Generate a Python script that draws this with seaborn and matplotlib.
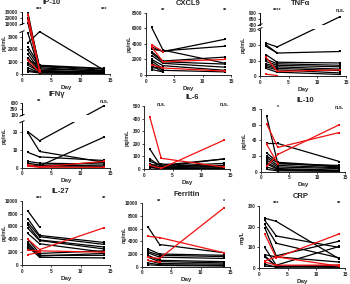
import matplotlib
matplotlib.use("Agg")
import matplotlib.pyplot as plt
import numpy as np
import pandas as pd
import seaborn as sns

DAYS = [1, 3, 14]

# per-patient values at day 1, 3, 14 (nan = not sampled)
IP10_BLACK = [
	[29000, 400, 250], [20000, 600, 300], [12000, 300, np.nan], [3300, 200, 150],
	[2500, 3400, 300], [2200, 650, 400], [1900, 500, 200], [1600, 300, 100],
	[1300, 250, 150], [1100, 700, 450], [900, 150, 100], [700, 200, 50],
	[500, 100, 80], [300, 120, 60], [200, 80, 30],
]
IP10_RED = [[25000, 300, np.nan], [16000, 250, np.nan], [1100, 150, np.nan]]

CXCL9_BLACK = [
	[6100, 3200, 1500], [3600, 3000, 4600], [3300, 3100, 3700], [3000, 1800, 2300],
	[2800, 1700, 1400], [2500, 1500, 1000], [2000, 1200, 600], [1800, 800, np.nan],
	[1500, 600, 400], [1200, 400, np.nan], [900, 1000, np.nan], [700, 400, np.nan],
]
CXCL9_RED = [[3900, 3000, np.nan], [3600, 1700, 2000], [1300, 900, 500]]

TNFA_BLACK = [
	[215, 190, 740], [205, 150, 160], [195, 150, np.nan], [140, 90, 85],
	[110, 80, 70], [95, 70, 60], [80, 60, 45], [70, 50, 35], [60, 40, 20], [50, 25, 10],
]
TNFA_RED = [[125, 30, 40], [12, 3, np.nan]]

IFNG_BLACK = [
	[20, 15, 490], [19.5, 9, 3], [8.5, 6, 4], [3.5, 2.5, 2], [2.5, 1.5, 1],
	[np.nan, 1, 17], [1.5, 1, 3], [1, 0.5, 0.5],
]
IFNG_RED = [[1.5, 0.5, 3.5], [0.8, 0.3, 0.2]]

IL6_BLACK = [
	[160, 20, 80], [80, 20, 45], [60, 30, 80], [40, 15, 30], [30, 10, 20],
	[25, 40, 15], [20, 5, 10], [15, 8, 5], [10, 3, 2],
]
IL6_RED = [[415, 85, 15], [30, 5, 230]]

IL10_BLACK = [
	[71, 10, 8], [36, 36, 13], [24, 12, 7], [20, 11, 6], [18, 8, 5],
	[15, 6, 4], [12, 4, 2], [10, 3, 1], [6, 2, 1], [3, 1, 0.5],
]
IL10_RED = [[61, 31, 50], [7, 22, 60], [35, 10, np.nan]]

IL27_BLACK = [
	[8400, 5900, np.nan], [7200, 4600, 3500], [6600, 4400, 3200], [6200, 3900, 2800],
	[5700, 3800, 2500], [4900, 3300, 2000], [4000, 1800, 2200], [3500, 1500, 1500],
	[3200, 1400, 1800], [2900, 1200, 1100], [2600, 1600, np.nan],
]
IL27_RED = [[4000, 2400, 5800], [2300, 2200, 2000], [1600, 2000, np.nan]]

FERRITIN_BLACK = [
	[6300, 3500, 2200], [2800, 2000, 1800], [2400, 1800, 1600], [2200, 1500, 1300],
	[1800, 1000, 800], [1500, 800, 600], [1000, 500, 400], [600, 300, 200], [300, 200, 100],
]
FERRITIN_RED = [[4800, 4600, 2200], [1500, 1300, 9300], [1000, 700, np.nan]]

CRP_BLACK = [
	[240, 225, 45], [230, 155, 100], [210, 120, 50], [195, 60, 130], [100, 15, 105],
	[65, 55, 30], [60, 10, 15], [55, 10, 5], [20, 5, 10], [10, 8, 5],
]
CRP_RED = [[165, 50, 165], [35, 55, 10], [30, 15, 15]]

TITLES = ["IP-10", "CXCL9", "TNFα", "IFNγ", "IL-6", "IL-10", "IL-27", "Ferritin", "CRP"]
UNITS = ["pg/mL"] * 7 + ["ng/mL", "mg/L"]
SIG_EARLY = ["***", "**", "****", "**", "n.s.", "*", "***", "**", "***"]
SIG_LATE = ["***", "**", "n.s.", "n.s.", "n.s.", "n.s.", "**", "*", "**"]
YTICKS = [
	[0, 1000, 2000, 3000, 10000, 20000, 30000],
	[0, 2000, 4000, 6000, 8000],
	[0, 100, 200, 300, 400, 650, 900],
	[0, 10, 20, 100, 350, 600],
	[0, 100, 200, 300, 400, 500],
	[0, 20, 40, 60, 80],
	[0, 2000, 4000, 6000, 8000, 10000],
	[0, 2000, 4000, 6000, 8000, 10000],
	[0, 100, 200, 300],
]
BLACK = [IP10_BLACK, CXCL9_BLACK, TNFA_BLACK, IFNG_BLACK, IL6_BLACK, IL10_BLACK,
	IL27_BLACK, FERRITIN_BLACK, CRP_BLACK]
RED = [IP10_RED, CXCL9_RED, TNFA_RED, IFNG_RED, IL6_RED, IL10_RED,
	IL27_RED, FERRITIN_RED, CRP_RED]

# layout: pixel boxes (x0, x1, ytop, ybottom) on a 350x284 canvas
BOXES = [
	(22, 110, 11.7, 74), (146, 231, 12.7, 75), (260, 346, 12.7, 76),
	(22, 110, 103, 167.7), (144, 230, 106, 169), (261, 345, 109, 171.7),
	(22, 110, 200.7, 265), (142, 230, 203.3, 266.7), (259, 345, 205.7, 268.3),
]
TITLE_X = [0.34, 0.5, 0.47, 0.4, 0.56, 0.53, 0.44, 0.51, 0.48]
# broken y axes: (lower top, upper bottom, upper top, frac lower top, frac upper bottom)
BREAKS = {
	0: (3400, 10000, 30000, 0.68, 0.80),
	2: (310, 400, 900, 0.75, 0.81),
	3: (25.5, 100, 600, 0.71, 0.81),
}

W, H = 350, 284


def _broken_scale(lt, ub, ut, fl, fu):
	xp = [0, lt, ub, ut]
	fp = [0, fl, fu, 1]
	return (lambda v: np.interp(v, xp, fp), lambda f: np.interp(f, fp, xp))


def _long_frame(black, red):
	rows = []
	for group, series in (("black", black), ("red", red)):
		for pid, vals in enumerate(series):
			for day, v in zip(DAYS, vals):
				rows.append({"patient": f"{group}{pid}", "group": group, "day": day, "value": v})
	return pd.DataFrame(rows).dropna()


def main():
	sns.set_style("ticks")
	plt.rcParams["font.family"] = ["Liberation Sans", "DejaVu Sans"]
	plt.rcParams["font.weight"] = "bold"

	fig = plt.figure(figsize=(W / 100, H / 100), dpi=100)

	for i, title in enumerate(TITLES):
		x0, x1, yt, yb = BOXES[i]
		ax = fig.add_axes([x0 / W, (H - yb) / H, (x1 - x0) / W, (yb - yt) / H])
		df = _long_frame(BLACK[i], RED[i])

		ymax = YTICKS[i][-1]
		if i in BREAKS:
			lt, ub, ut, fl, fu = BREAKS[i]
			ax.set_yscale("function", functions=_broken_scale(lt, ub, ut, fl, fu))

		sns.lineplot(
			data=df, x="day", y="value", units="patient", estimator=None,
			hue="group", palette={"black": "black", "red": "#f01010"},
			hue_order=["black", "red"], marker="s", markersize=1.8,
			markeredgewidth=0, linewidth=0.9, legend=False, ax=ax,
		)

		ax.set_xlim(0, 15)
		ax.set_ylim(0, ymax)
		ax.set_xticks([0, 5, 10, 15])
		ax.set_yticks(YTICKS[i])
		ax.set_yticklabels([str(t) for t in YTICKS[i]])
		ax.tick_params(labelsize=3.4, length=1.6, width=0.6, pad=1)
		for s in ("top", "right"):
			ax.spines[s].set_visible(False)
		for s in ("left", "bottom"):
			ax.spines[s].set_linewidth(0.7)

		if i in BREAKS:
			lt, ub, ut, fl, fu = BREAKS[i]
			ax.spines["left"].set_visible(False)
			kw = dict(transform=ax.transAxes, color="black", lw=0.7, clip_on=False)
			ax.plot([0, 0], [0, fl], **kw)
			ax.plot([0, 0], [fu, 1], **kw)
			ax.plot([-0.025, 0.025], [fl - 0.015, fl + 0.015], **kw)
			ax.plot([-0.025, 0.025], [fu - 0.015, fu + 0.015], **kw)
			ax.axhspan(lt, ub, xmin=0.3, xmax=1, color="white", zorder=5, lw=0)

		ax.set_xlabel("Day", fontsize=4.5, fontweight="bold", labelpad=1.5)
		ax.set_ylabel(UNITS[i], fontsize=4, fontweight="bold")
		ax.yaxis.set_label_coords(-0.17, 0.5)
		ax.annotate(title, xy=(TITLE_X[i], 1), xycoords="axes fraction",
			xytext=(0, 6.3), textcoords="offset points", ha="center", va="center",
			fontsize=5.5, fontweight="bold")

		tr = ax.get_xaxis_transform()
		ax.text(3, 1.03, SIG_EARLY[i], transform=tr, ha="center", va="center",
			fontsize=4, fontweight="bold")
		ax.text(14, 1.03, SIG_LATE[i], transform=tr, ha="center", va="center",
			fontsize=4, fontweight="bold")

	fig.savefig("out.png", dpi=100)
	plt.close(fig)


if __name__ == "__main__":
	main()
